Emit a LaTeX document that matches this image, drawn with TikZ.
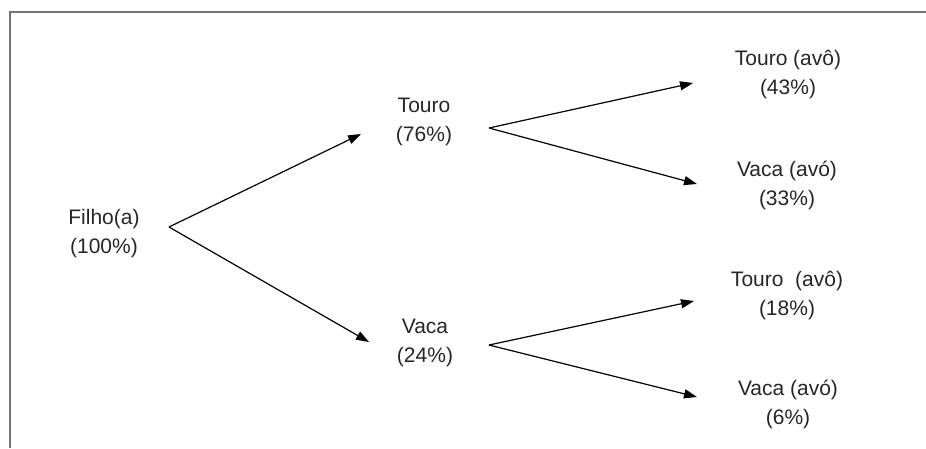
\documentclass[tikz,border=0pt]{standalone}
\usepackage{fontspec}
\setmainfont{Liberation Sans}
\usetikzlibrary{arrows.meta}
\begin{document}
\begin{tikzpicture}[x=1pt,y=-1pt,
  lbl/.style={align=center,inner sep=0pt,font=\fontsize{21}{29}\selectfont,text=black!85},
  arr/.style={line width=1.2pt,-{Triangle[length=13pt,width=9pt]}},
  frame/.style={draw=black!55,line width=1.4pt}]
\useasboundingbox (0,0) rectangle (926,448);
\draw[frame] (10,448) -- (10,12) -- (926,12);
% labels
\node[lbl] (f)  at (104,234) {Filho(a)\\(100\%)};
\node[lbl] (t)  at (424,122) {Touro\\(76\%)};
\node[lbl] (v)  at (425,343) {Vaca\\(24\%)};
\node[lbl] (tt) at (788,75)  {Touro (avô)\\(43\%)};
\node[lbl] (tv) at (787,185) {Vaca (avó)\\(33\%)};
\node[lbl] (vt) at (787,296) {Touro\ \ (avô)\\(18\%)};
\node[lbl] (vv) at (788,404) {Vaca (avó)\\(6\%)};
% connector points
\coordinate (fa) at (169,227);
\coordinate (ta) at (489,128);
\coordinate (va) at (489,345);
\coordinate (ft) at (361,134);
\coordinate (fv) at (369,342);
\coordinate (ttt) at (693,83);
\coordinate (ttv) at (697,184);
\coordinate (vvt) at (694,301);
\coordinate (vvv) at (697,397);
\draw[arr] (fa) -- (ft);
\draw[arr] (fa) -- (fv);
\draw[arr] (ta) -- (ttt);
\draw[arr] (ta) -- (ttv);
\draw[arr] (va) -- (vvt);
\draw[arr] (va) -- (vvv);
\end{tikzpicture}
\end{document}
